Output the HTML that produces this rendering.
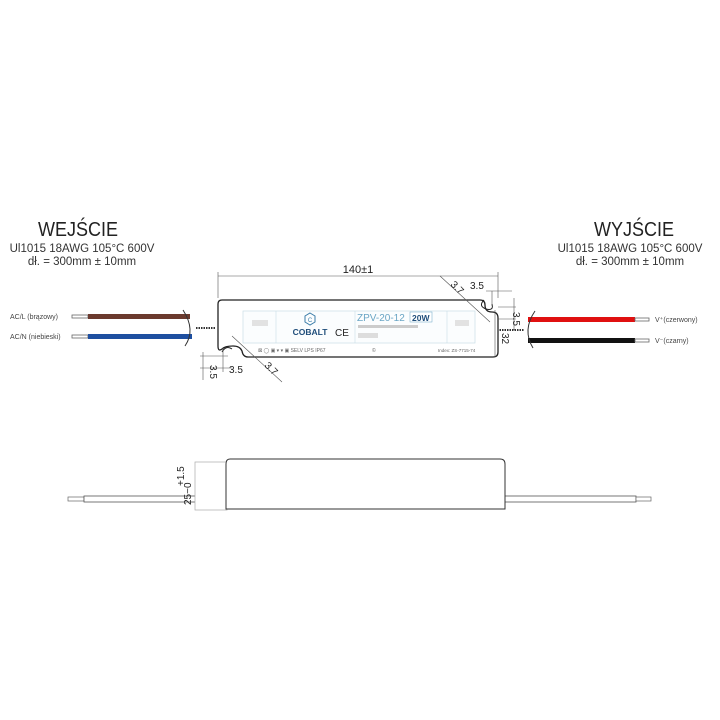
<!DOCTYPE html>
<html><head><meta charset="utf-8"><style>
html,body{margin:0;padding:0;background:#fff;width:720px;height:720px;overflow:hidden}
svg{display:block}
text{font-family:"Liberation Sans","DejaVu Sans",sans-serif}
</style></head><body>
<svg width="720" height="720" viewBox="0 0 720 720" xmlns="http://www.w3.org/2000/svg">
<text x="78" y="236" font-size="20" text-anchor="middle" fill="#222" textLength="80" lengthAdjust="spacingAndGlyphs">WEJŚCIE</text>
<text x="82" y="252" font-size="11.5" text-anchor="middle" fill="#333">Ul1015 18AWG 105°C 600V</text>
<text x="82" y="265" font-size="11.5" text-anchor="middle" fill="#333">dł. = 300mm ± 10mm</text>
<text x="634" y="236" font-size="20" text-anchor="middle" fill="#222" textLength="80" lengthAdjust="spacingAndGlyphs">WYJŚCIE</text>
<text x="630" y="252" font-size="11.5" text-anchor="middle" fill="#333">Ul1015 18AWG 105°C 600V</text>
<text x="630" y="265" font-size="11.5" text-anchor="middle" fill="#333">dł. = 300mm ± 10mm</text>

<text x="10" y="319" font-size="7" fill="#444">AC/L (brązowy)</text>
<text x="10" y="339" font-size="7" fill="#444">AC/N (niebieski)</text>
<rect x="72" y="315" width="16" height="3" fill="#fff" stroke="#666" stroke-width="0.8"/>
<rect x="88" y="314" width="102" height="5" fill="#6b3a2e"/>
<rect x="72" y="335" width="16" height="3" fill="#fff" stroke="#666" stroke-width="0.8"/>
<rect x="88" y="334" width="104" height="5" fill="#1e4fa0"/>
<path d="M183 310 Q196 330 185 346" fill="none" stroke="#333" stroke-width="1"/>
<line x1="196" y1="328" x2="216" y2="328" stroke="#333" stroke-width="2" stroke-dasharray="1.5,1"/>

<text x="655" y="322" font-size="7" fill="#444">V⁺(czerwony)</text>
<text x="655" y="343" font-size="7" fill="#444">V⁻(czarny)</text>
<rect x="528" y="317" width="107" height="5" fill="#e01010"/>
<rect x="635" y="318" width="14" height="3" fill="#fff" stroke="#666" stroke-width="0.8"/>
<rect x="528" y="338" width="107" height="5" fill="#111"/>
<rect x="635" y="339" width="14" height="3" fill="#fff" stroke="#666" stroke-width="0.8"/>
<path d="M535 311 Q522 330 533 348" fill="none" stroke="#333" stroke-width="1"/>
<line x1="497" y1="330" x2="524" y2="330" stroke="#333" stroke-width="2" stroke-dasharray="1.5,1"/>

<path d="M222 300 H480 Q485 300 485 305 Q485 312 492 312 Q498 312 498 318 V352 Q498 357 493 357 H248 Q243 357 242 351 Q240 346 233 346 Q225 346 222 349 Q218 352 218 346 V304 Q218 300 222 300 Z" fill="#fff" stroke="#222" stroke-width="1.3"/>
<path d="M484 300 Q478 306 486 309 Q494 311 492 304" fill="none" stroke="#222" stroke-width="1"/>
<path d="M222 352 Q226 345 232 349" fill="none" stroke="#222" stroke-width="1"/>
<rect x="243" y="311" width="232" height="32" fill="#fbfdfe" stroke="#c9dde6" stroke-width="0.7"/>
<line x1="276" y1="311" x2="276" y2="343" stroke="#c9dde6" stroke-width="0.6"/>
<line x1="355" y1="311" x2="355" y2="343" stroke="#c9dde6" stroke-width="0.6"/>
<line x1="447" y1="311" x2="447" y2="343" stroke="#c9dde6" stroke-width="0.6"/>
<polygon points="310,313 315,316 315,322 310,325 305,322 305,316" fill="none" stroke="#3a7ca8" stroke-width="1"/>
<text x="310" y="322" font-size="6" text-anchor="middle" fill="#3a7ca8">C</text>
<text x="310" y="335" font-size="8.5" font-weight="bold" text-anchor="middle" fill="#1f4d7a">COBALT</text>
<text x="335" y="336" font-size="10" fill="#222">CE</text>
<text x="357" y="321" font-size="10" fill="#6aa5c5">ZPV-20-12</text>
<rect x="410" y="312" width="22" height="10" fill="#fff" stroke="#6aa5c5" stroke-width="0.5"/>
<text x="412" y="321" font-size="8.5" font-weight="bold" fill="#1f4d7a">20W</text>
<rect x="358" y="325" width="60" height="3" fill="#ccc"/>
<rect x="358" y="333" width="20" height="5" fill="#ddd"/>
<rect x="252" y="320" width="16" height="6" fill="#e2e2e2"/>
<rect x="455" y="320" width="14" height="6" fill="#e2e2e2"/>
<text x="258" y="352" font-size="5" fill="#666">⊠ ◯ ▣ ▾ ▾ ▣ SELV LPS IP67</text>
<text x="438" y="352" font-size="4.5" fill="#666">Index: ZS-7715-74</text>
<text x="372" y="352" font-size="5" fill="#666">©</text>

<line x1="218" y1="298" x2="218" y2="272" stroke="#555" stroke-width="0.6"/>
<line x1="498" y1="298" x2="498" y2="272" stroke="#555" stroke-width="0.6"/>
<line x1="218" y1="276" x2="498" y2="276" stroke="#555" stroke-width="0.6"/>
<text x="358" y="273" font-size="11" text-anchor="middle" fill="#222">140±1</text>
<line x1="495" y1="357" x2="495" y2="310" stroke="#555" stroke-width="0.6"/>
<text x="502" y="333" font-size="10" fill="#222" transform="rotate(90 502 333)">32</text>
<text x="470" y="289" font-size="10" fill="#222">3.5</text>
<line x1="486" y1="291" x2="512" y2="291" stroke="#555" stroke-width="0.6"/>
<line x1="492" y1="291" x2="492" y2="306" stroke="#555" stroke-width="0.6"/>
<line x1="498" y1="307" x2="516" y2="307" stroke="#555" stroke-width="0.6"/>
<line x1="498" y1="319" x2="516" y2="319" stroke="#555" stroke-width="0.6"/>
<line x1="514" y1="298" x2="514" y2="330" stroke="#555" stroke-width="0.6"/>
<text x="513" y="312" font-size="10" fill="#222" transform="rotate(90 513 312)">3.5</text>
<line x1="440" y1="276" x2="490" y2="322" stroke="#555" stroke-width="0.6"/>
<text x="450" y="285" font-size="10" fill="#222" transform="rotate(45 450 285)">3.7</text>
<line x1="200" y1="356" x2="228" y2="356" stroke="#555" stroke-width="0.6"/>
<line x1="200" y1="368" x2="232" y2="368" stroke="#555" stroke-width="0.6"/>
<line x1="203" y1="352" x2="203" y2="380" stroke="#555" stroke-width="0.6"/>
<line x1="223" y1="348" x2="223" y2="372" stroke="#555" stroke-width="0.6"/>
<text x="210" y="365" font-size="10" fill="#222" transform="rotate(90 210 365)">3.5</text>
<text x="229" y="373" font-size="10" fill="#222">3.5</text>
<line x1="232" y1="336" x2="282" y2="382" stroke="#555" stroke-width="0.6"/>
<text x="264" y="366" font-size="10" fill="#222" transform="rotate(45 264 366)">3.7</text>

<rect x="68" y="497" width="16" height="4" fill="#fff" stroke="#666" stroke-width="0.7"/>
<rect x="84" y="496" width="142" height="6" fill="#fff" stroke="#555" stroke-width="0.8"/>
<rect x="503" y="496" width="133" height="6" fill="#fff" stroke="#555" stroke-width="0.8"/>
<rect x="636" y="497" width="15" height="4" fill="#fff" stroke="#666" stroke-width="0.7"/>
<rect x="195" y="462" width="32" height="48" fill="#fff" stroke="#aaa" stroke-width="0.7"/>
<path d="M230 459 H500 Q505 459 505 464 V509 H226 V464 Q226 459 230 459 Z" fill="#fff" stroke="#333" stroke-width="1"/>
<text x="191" y="505" font-size="10" fill="#222" transform="rotate(-90 191 505)">25−0</text>
<text x="184" y="486" font-size="10" fill="#222" transform="rotate(-90 184 486)">+1.5</text>
</svg>
</body></html>
